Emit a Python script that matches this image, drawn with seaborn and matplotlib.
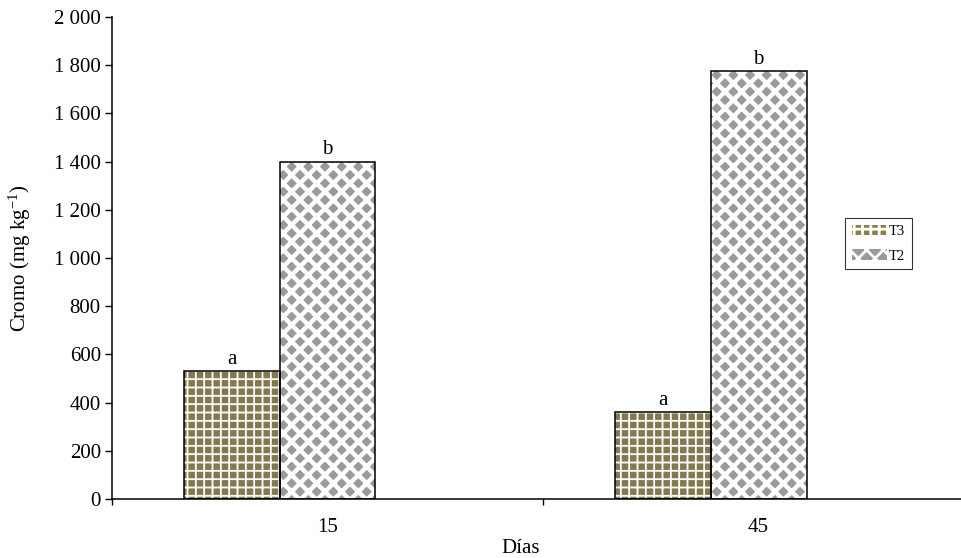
import pandas as pd
import matplotlib
matplotlib.use("Agg")
import matplotlib.pyplot as plt
import matplotlib.patches as mpatches
from matplotlib.ticker import FuncFormatter, FixedLocator
import seaborn as sns

# --- datos ---
dias = ["15", "45"]
t3 = [530, 360]
t2 = [1400, 1775]
letras_t3 = ["a", "a"]
letras_t2 = ["b", "b"]
tratamientos = ["T3", "T2", "T1"]  # T1 sin datos: solo ocupa su hueco

colores = {"T3": "#8a7f47", "T2": "#9a9a9a", "T1": "white"}
tramas = {"T3": "++", "T2": "xx", "T1": ""}
grosor_trama = {"T3": 1.3, "T2": 3.2, "T1": 1.0}

sns.set_style("ticks", {"axes.edgecolor": "black", "xtick.color": "black",
                        "ytick.color": "black", "text.color": "black",
                        "axes.labelcolor": "black"})
plt.rcParams["font.family"] = ["Liberation Serif", "DejaVu Serif"]
plt.rcParams["mathtext.default"] = "regular"
plt.rcParams["hatch.linewidth"] = 2.0

df = pd.DataFrame({
    "Dias": dias * 2,
    "Cromo": t3 + t2,
    "Tratamiento": ["T3"] * len(dias) + ["T2"] * len(dias),
})

fig = plt.figure(figsize=(9.62, 5.58), dpi=100)
ax = fig.add_axes([0.1164, 0.1057, 0.8961, 0.8638])

# relleno con trama
sns.barplot(data=df, x="Dias", y="Cromo", hue="Tratamiento", hue_order=tratamientos,
            palette=colores, width=0.668, linewidth=0, edgecolor="white",
            legend=False, ax=ax)
for cont, trat in zip(ax.containers, tratamientos):
    for p in cont.patches:
        p.set_hatch(tramas[trat])
        p.set_edgecolor("white")
        p.set_linewidth(0)
        if hasattr(p, "set_hatch_linewidth"):
            p.set_hatch_linewidth(grosor_trama[trat])

# contorno negro
sns.barplot(data=df, x="Dias", y="Cromo", hue="Tratamiento", hue_order=tratamientos,
            fill=False, width=0.668, linewidth=1.1, edgecolor="black",
            legend=False, ax=ax)

# letras de significancia
n = len(ax.containers) // 2
for cont, letras in zip(ax.containers[n:n + 2], [letras_t3, letras_t2]):
    for p, letra in zip(cont.patches, letras):
        ax.text(p.get_x() + p.get_width() / 2, p.get_height() + 10, letra,
                ha="center", va="bottom", fontsize=15)

ax.set_ylim(0, 2000)
ax.set_xlim(-0.5, 1.5)
ax.set_yticks(range(0, 2001, 200))
ax.yaxis.set_major_formatter(FuncFormatter(lambda v, _: f"{int(v):,}".replace(",", " ")))
ax.xaxis.set_minor_locator(FixedLocator([-0.5, 0.5, 1.5]))
ax.tick_params(axis="x", which="major", length=0, labelsize=15, pad=14)
ax.tick_params(axis="x", which="minor", length=4, width=1, direction="out")
ax.tick_params(axis="y", length=5, width=1, labelsize=15, pad=3)
for s in ["top", "right"]:
    ax.spines[s].set_visible(False)
for s in ["left", "bottom"]:
    ax.spines[s].set_linewidth(1.1)

ax.set_xlabel("Días", fontsize=15)
ax.set_ylabel("Cromo (mg kg$^{-1}$)", fontsize=15)
ax.xaxis.set_label_coords(0.4745, -0.082)
ax.yaxis.set_label_coords(-0.092, 0.5)

handles = [mpatches.Patch(facecolor=colores[t], hatch=tramas[t], edgecolor="white",
                          linewidth=0, label=t) for t in ["T3", "T2"]]
leg = ax.legend(handles=handles, loc="upper left",
                bbox_to_anchor=(845 / 962, 1 - 218 / 558), bbox_transform=fig.transFigure,
                borderaxespad=0, frameon=True, fancybox=False, fontsize=10.5,
                handlelength=2.4, handleheight=0.7, handletextpad=0.15,
                labelspacing=0.8, borderpad=0.45)
leg.get_frame().set_edgecolor("black")
leg.get_frame().set_linewidth(0.8)

fig.savefig("out.png", dpi=100)
